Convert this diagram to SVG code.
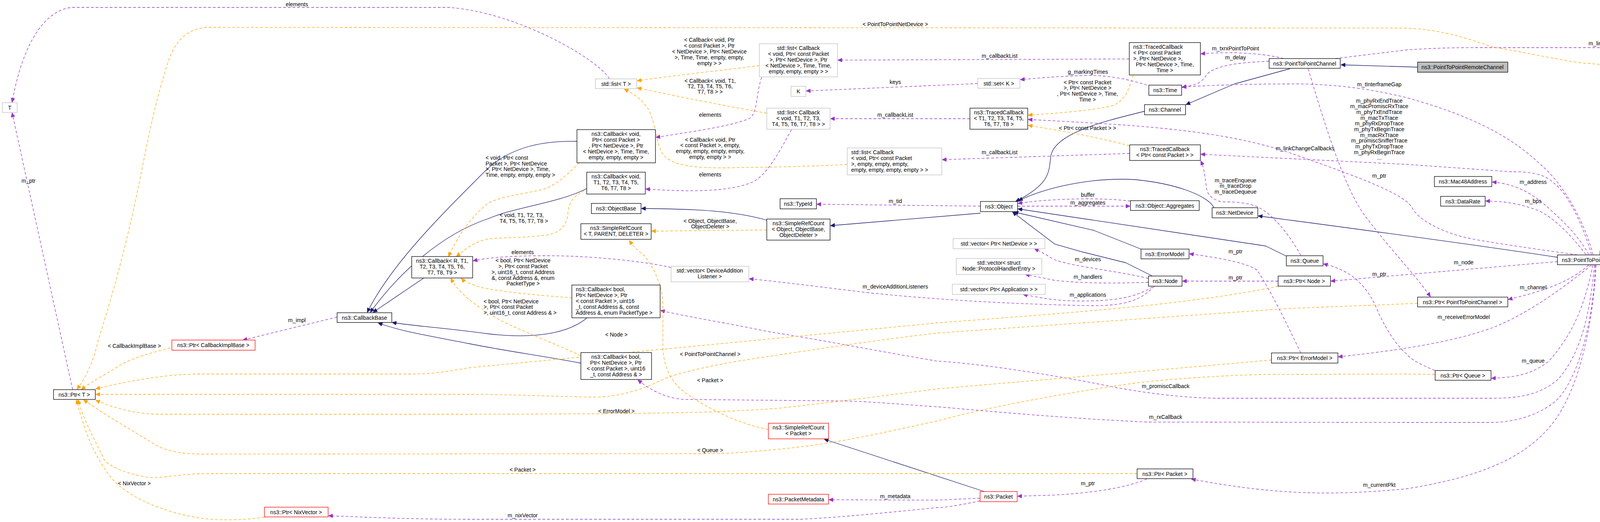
<svg xmlns="http://www.w3.org/2000/svg" width="4744" height="1337" viewBox="0 0 4744 1337">
<style>
text{font-family:"Liberation Sans",Arial,sans-serif;font-size:14px;fill:#000}
.c{text-anchor:middle}
.s{text-anchor:start}
rect{fill:#fff;stroke:#000;stroke-width:1.3}
rect.g{stroke:#bfbfbf}
rect.r{stroke:#ff0000}
rect.h{fill:#bfbfbf}
path{fill:none;stroke-linejoin:round}
.i{stroke:#191970;stroke-width:1.3;marker-end:url(#ai)}
.u{stroke:#9a32cd;stroke-width:1.3;stroke-dasharray:7,5;marker-end:url(#au)}
.t{stroke:#ffa500;stroke-width:1.3;stroke-dasharray:7,5;marker-end:url(#at)}
</style>
<defs>
<marker id="ai" markerUnits="userSpaceOnUse" markerWidth="12" markerHeight="10" refX="11" refY="5" orient="auto"><path d="M0,0L11,5L0,10z" style="fill:#191970;stroke:#191970"/></marker>
<marker id="au" markerUnits="userSpaceOnUse" markerWidth="12" markerHeight="10" refX="11" refY="5" orient="auto"><path d="M0,0L11,5L0,10z" style="fill:#9a32cd;stroke:#9a32cd"/></marker>
<marker id="at" markerUnits="userSpaceOnUse" markerWidth="12" markerHeight="10" refX="11" refY="5" orient="auto"><path d="M0,0L11,5L0,10z" style="fill:#ffa500;stroke:#ffa500"/></marker>
</defs>
<rect x="0" y="0" width="4744" height="1337" style="stroke:none"/>
<g id="connectors">
<!-- inheritance -->
<path class="i" d="M3629,172L3433,166"/>
<path class="i" d="M3302,176L3160,215L3036,268"/>
<path class="i" d="M2930,285C2830,310 2700,340 2690,400C2685,440 2690,470 2600,516"/>
<path class="i" d="M1477,362C1380,360 1300,380 1240,440C1120,560 1000,680 940,800"/>
<path class="i" d="M1502,483C1430,520 1320,530 1250,560C1130,600 1020,700 948,800"/>
<path class="i" d="M1085,712L955,800"/>
<path class="i" d="M1503,814C1460,850 1380,870 1250,855C1140,840 1060,835 1004,826"/>
<path class="i" d="M1487,930C1380,910 1300,900 1200,880C1100,860 1030,850 968,827"/>
<path class="i" d="M1963,564C1880,540 1780,535 1642,534"/>
<path class="i" d="M2510,546L2126,578"/>
<path class="i" d="M3108,532C3090,500 3010,470 2905,460C2820,455 2700,470 2607,514"/>
<path class="i" d="M2921,638L2800,590L2596,543"/>
<path class="i" d="M3293,656L3240,630L2606,535"/>
<path class="i" d="M2950,707L2882,673L2770,645L2700,625L2592,543"/>
<path class="i" d="M3987,659C3800,630 3500,590 3221,553"/>
<path class="i" d="M2520,1259L2110,1125"/>
<!-- usage -->
<path class="u" d="M1560,202C1530,150 1320,30 1148,19L184,19C120,25 60,100 31,262"/>
<path class="u" d="M186,998L31,289"/>
<path class="u" d="M863,812L622,871"/>
<path class="u" d="M1950,198C1935,240 1940,290 1919,303C1870,325 1750,340 1679,352"/>
<path class="u" d="M2026,332C1990,400 1960,450 1927,466C1860,495 1740,490 1653,484"/>
<path class="u" d="M1718,685C1650,670 1520,655 1400,655C1300,655 1250,660 1211,668"/>
<path class="u" d="M2891,151L2145,154"/>
<path class="u" d="M2503,214L2064,233"/>
<path class="u" d="M2483,304L2126,304"/>
<path class="u" d="M2892,393L2412,409"/>
<path class="u" d="M2510,528L2091,523"/>
<path class="u" d="M2936,218C2880,200 2820,190 2760,194C2700,196 2660,200 2612,204"/>
<path class="u" d="M3286,150C3230,135 3140,132 3074,138"/>
<path class="u" d="M3249,157C3160,160 3110,170 3090,190C3070,220 3060,215 3026,224"/>
<path class="u" d="M3418,150L3600,128C3680,122 3746,122 3800,122L4403,122C4480,124 4520,130 4554,135"/>
<path class="u" d="M4078,652C4060,580 4010,480 3950,427C3900,380 3820,310 3600,250C3500,225 3400,214 3300,215C3200,215 3100,218 3026,223"/>
<path class="u" d="M4074,652C4060,600 4020,500 3979,470C3950,440 3900,440 3870,440C3800,435 3700,428 3600,421L3074,395"/>
<path class="u" d="M4038,653C3950,640 3800,620 3746,607C3680,590 3630,560 3616,534C3600,500 3500,460 3280,384C3100,330 2900,320 2632,306"/>
<path class="u" d="M4067,652C4040,600 3990,556 3950,520C3900,480 3860,470 3820,466"/>
<path class="u" d="M4060,652C4020,600 3980,560 3940,540C3900,525 3860,515 3803,515"/>
<path class="u" d="M4353,204L4095,652"/>
<path class="u" d="M4555,167L4462,177"/>
<path class="u" d="M3987,670L3407,720"/>
<path class="u" d="M4067,679C4020,720 3965,742 3861,767"/>
<path class="u" d="M4074,679C4000,740 3900,810 3819,840C3720,875 3600,895 3426,914"/>
<path class="u" d="M4078,679C4060,760 4040,840 3965,925C3920,960 3880,966 3818,969"/>
<path class="u" d="M4082,679C4070,800 4050,900 3990,970C3940,1015 3880,1020 3819,1020L3112,1020C3000,1018 2900,1000 2859,993C2700,960 2500,930 2400,925C2250,900 2100,870 1965,849C1850,825 1750,810 1691,795"/>
<path class="u" d="M4084,679C4080,800 4050,950 3990,1020C3950,1060 3880,1082 3819,1082L3600,1082L2936,1081C2700,1070 2500,1050 2400,1042C2300,1035 2200,1027 2157,1027L1751,1023C1700,1020 1660,995 1633,973"/>
<path class="u" d="M4086,679C4080,800 4050,1000 3965,1096C3900,1170 3800,1220 3600,1252C3450,1265 3300,1275 3050,1227"/>
<path class="u" d="M2936,1227C2880,1250 2800,1262 2700,1268L2605,1271"/>
<path class="u" d="M2509,1276L2400,1281L2122,1280"/>
<path class="u" d="M2509,1283C2450,1295 2420,1300 2400,1300C2250,1315 2150,1325 2050,1330L1200,1330C1050,1330 950,1325 841,1321"/>
<path class="u" d="M2940,713C2840,690 2720,680 2690,660C2675,650 2665,645 2648,637"/>
<path class="u" d="M2940,723C2850,726 2770,726 2700,718C2670,712 2650,708 2625,703"/>
<path class="u" d="M2950,735C2910,760 2860,771 2768,771C2700,771 2660,762 2619,754"/>
<path class="u" d="M2955,733C2920,770 2880,783 2796,783C2650,780 2450,773 2225,750C2100,735 2000,722 1918,714"/>
<path class="u" d="M3272,720L3027,720"/>
<path class="u" d="M3330,904C3290,820 3250,740 3219,693C3200,675 3120,660 3045,650"/>
<path class="u" d="M3673,949C3640,935 3610,920 3600,906C3570,880 3540,830 3520,780C3490,720 3450,690 3388,676"/>
<path class="u" d="M3330,654C3300,600 3260,550 3220,530C3190,517 3150,517 3127,517C3100,510 3090,495 3089,483C3085,460 3085,436 3074,412"/>
<path class="u" d="M3349,176C3400,350 3450,500 3500,560C3560,640 3620,700 3662,760"/>
<path class="u" d="M2605,528L2893,528"/>
<path class="u" d="M2894,515C2850,510 2800,508 2740,510C2680,512 2640,516 2606,521"/>
<!-- templates -->
<path class="t" d="M1944,168C1850,180 1750,190 1631,207"/>
<path class="t" d="M1963,290C1850,270 1750,250 1631,225"/>
<path class="t" d="M2169,421C2050,428 1950,428 1850,430C1780,430 1720,425 1697,395C1680,370 1680,320 1660,280C1640,250 1620,240 1598,228"/>
<path class="t" d="M2901,192C2890,230 2880,260 2844,272C2780,285 2700,290 2632,295"/>
<path class="t" d="M2892,373C2800,350 2720,335 2632,321"/>
<path class="t" d="M1963,589L1668,592"/>
<path class="t" d="M1967,1100C1890,1085 1820,1050 1760,1010C1710,975 1697,930 1697,880L1697,780C1697,730 1670,680 1650,655C1630,640 1620,630 1611,616"/>
<path class="t" d="M1483,417C1460,440 1420,480 1382,487C1320,500 1280,505 1250,520C1200,560 1170,610 1148,657"/>
<path class="t" d="M1496,488C1470,500 1455,520 1454,545C1452,580 1430,600 1391,603C1330,610 1280,608 1250,612C1210,620 1190,640 1168,657"/>
<path class="t" d="M1465,763C1400,758 1300,750 1235,737C1210,730 1190,722 1181,713"/>
<path class="t" d="M1487,911C1420,880 1340,850 1280,820C1230,790 1180,760 1154,713"/>
<path class="t" d="M436,891C380,905 330,920 300,940C260,965 230,980 208,998"/>
<path class="t" d="M677,1325C620,1332 560,1335 500,1325C420,1310 340,1280 290,1230C240,1170 215,1100 196,1024"/>
<path class="t" d="M3272,733C3050,780 2750,800 2400,827L1200,942C1130,955 1090,958 1056,958L497,958C420,960 330,975 245,996"/>
<path class="t" d="M3629,777L3300,790L2400,853C2250,870 2050,900 1889,925C1800,940 1720,960 1697,972C1620,1010 1560,1017 1520,1017C1400,1015 1300,1010 1200,1010L245,1010"/>
<path class="t" d="M3255,922C3000,945 2700,970 2400,996C2250,1015 2150,1028 2000,1045C1850,1057 1700,1060 1200,1061L398,1061C340,1058 290,1045 245,1025"/>
<path class="t" d="M3673,959L3600,958L3242,959C3100,962 2950,975 2900,982C2700,1010 2500,1050 2400,1078C2250,1110 2150,1135 2000,1150C1900,1160 1850,1162 1800,1162L520,1163C450,1163 410,1150 383,1130C300,1080 250,1050 214,1024"/>
<path class="t" d="M2911,1213L536,1213C460,1213 420,1225 383,1223C330,1215 290,1200 268,1180C240,1120 215,1080 200,1024"/>
<path class="t" d="M4275,177C4200,170 4120,168 4038,160C3950,145 3880,130 3819,120C3750,95 3680,75 3600,72L528,70C480,75 450,100 430,160C400,250 380,350 360,450C320,650 280,780 252,870C240,920 225,960 197,997"/>
</g>
<g id="labels">
<text class="c" x="760" y="16">elements</text>
<text class="c" x="73" y="468">m_ptr</text>
<text class="c" x="760" y="825">m_impl</text>
<text class="c" x="344" y="891">&lt; CallbackImplBase &gt;</text>
<text class="c" x="344" y="1243">&lt; NixVector &gt;</text>
<text class="c" x="1816" y="107">&lt; Callback&lt; void, Ptr</text>
<text class="c" x="1816" y="122">&lt; const Packet &gt;, Ptr</text>
<text class="c" x="1816" y="137">&lt; NetDevice &gt;, Ptr&lt; NetDevice</text>
<text class="c" x="1816" y="152">&gt;, Time, Time, empty, empty,</text>
<text class="c" x="1816" y="167">empty &gt; &gt;</text>
<text class="c" x="1818" y="212">&lt; Callback&lt; void, T1,</text>
<text class="c" x="1818" y="226">T2, T3, T4, T5, T6,</text>
<text class="c" x="1818" y="240">T7, T8 &gt; &gt;</text>
<text class="c" x="1818" y="299">elements</text>
<text class="c" x="1818" y="363">&lt; Callback&lt; void, Ptr</text>
<text class="c" x="1818" y="377">&lt; const Packet &gt;, empty,</text>
<text class="c" x="1818" y="392">empty, empty, empty, empty,</text>
<text class="c" x="1818" y="407">empty, empty &gt; &gt;</text>
<text class="c" x="1818" y="452">elements</text>
<text class="c" x="2292" y="215">keys</text>
<text class="c" x="2292" y="299">m_callbackList</text>
<text class="c" x="2292" y="520">m_tid</text>
<text class="c" x="1818" y="571">&lt; Object, ObjectBase,</text>
<text class="c" x="1818" y="585">ObjectDeleter &gt;</text>
<text class="c" x="2292" y="67">&lt; PointToPointNetDevice &gt;</text>
<text class="c" x="1338" y="651">elements</text>
<text class="s" x="1243" y="409">&lt; void, Ptr&lt; const</text>
<text class="s" x="1243" y="424">Packet &gt;, Ptr&lt; NetDevice</text>
<text class="s" x="1243" y="438">&gt;, Ptr&lt; NetDevice &gt;, Time,</text>
<text class="s" x="1243" y="453">Time, empty, empty, empty &gt;</text>
<text class="s" x="1279" y="556">&lt; void, T1, T2, T3,</text>
<text class="s" x="1279" y="571">T4, T5, T6, T7, T8 &gt;</text>
<text class="c" x="1339" y="672">&lt; bool, Ptr&lt; NetDevice</text>
<text class="c" x="1339" y="687">&gt;, Ptr&lt; const Packet</text>
<text class="c" x="1339" y="702">&gt;, uint16_t, const Address</text>
<text class="c" x="1339" y="717">&amp;, const Address &amp;, enum</text>
<text class="c" x="1339" y="731">PacketType &gt;</text>
<text class="s" x="1238" y="777">&lt; bool, Ptr&lt; NetDevice</text>
<text class="s" x="1238" y="791">&gt;, Ptr&lt; const Packet</text>
<text class="s" x="1238" y="806">&gt;, uint16_t, const Address &amp; &gt;</text>
<text class="c" x="1578" y="862">&lt; Node &gt;</text>
<text class="c" x="1818" y="912">&lt; PointToPointChannel &gt;</text>
<text class="c" x="1818" y="979">&lt; Packet &gt;</text>
<text class="c" x="1578" y="1058">&lt; ErrorModel &gt;</text>
<text class="c" x="1818" y="1158">&lt; Queue &gt;</text>
<text class="c" x="1338" y="1208">&lt; Packet &gt;</text>
<text class="c" x="2292" y="739">m_deviceAdditionListeners</text>
<text class="c" x="2292" y="1276">m_metadata</text>
<text class="c" x="1338" y="1325">m_nixVector</text>
<text class="c" x="2559" y="148">m_callbackList</text>
<text class="c" x="2785" y="189">g_markingTimes</text>
<text class="c" x="2784" y="216">&lt; Ptr&lt; const Packet</text>
<text class="c" x="2784" y="230">&gt;, Ptr&lt; NetDevice &gt;</text>
<text class="c" x="2784" y="245">, Ptr&lt; NetDevice &gt;, Time,</text>
<text class="c" x="2784" y="260">Time &gt;</text>
<text class="c" x="3163" y="129">m_txrxPointToPoint</text>
<text class="c" x="3163" y="152">m_delay</text>
<text class="c" x="3531" y="221">m_tInterframeGap</text>
<text class="c" x="3531" y="263">m_phyRxEndTrace</text>
<text class="c" x="3531" y="277">m_macPromiscRxTrace</text>
<text class="c" x="3531" y="292">m_phyTxEndTrace</text>
<text class="c" x="3531" y="307">m_macTxTrace</text>
<text class="c" x="3531" y="321">m_phyRxDropTrace</text>
<text class="c" x="3531" y="336">m_phyTxBeginTrace</text>
<text class="c" x="3531" y="351">m_macRxTrace</text>
<text class="c" x="3531" y="365">m_promiscSnifferTrace</text>
<text class="c" x="3531" y="380">m_phyTxDropTrace</text>
<text class="c" x="3531" y="395">m_phyRxBeginTrace</text>
<text class="c" x="3531" y="409">...</text>
<text class="c" x="2784" y="333">&lt; Ptr&lt; const Packet &gt; &gt;</text>
<text class="c" x="2559" y="395">m_callbackList</text>
<text class="c" x="3341" y="385">m_linkChangeCallbacks</text>
<text class="c" x="3531" y="455">m_ptr</text>
<text class="c" x="3163" y="467">m_traceEnqueue</text>
<text class="c" x="3163" y="481">m_traceDrop</text>
<text class="c" x="3163" y="496">m_traceDequeue</text>
<text class="c" x="2785" y="504">buffer</text>
<text class="c" x="2785" y="524">m_aggregates</text>
<text class="c" x="3163" y="649">m_ptr</text>
<text class="c" x="2785" y="669">m_devices</text>
<text class="c" x="2785" y="714">m_handlers</text>
<text class="c" x="2785" y="760">m_applications</text>
<text class="c" x="3163" y="716">m_ptr</text>
<text class="c" x="3531" y="707">m_ptr</text>
<text class="c" x="2984" y="994">m_promiscCallback</text>
<text class="c" x="2984" y="1073">m_rxCallback</text>
<text class="c" x="2785" y="1243">m_ptr</text>
<text class="c" x="3531" y="1247">m_currentPkt</text>
<text class="c" x="4087" y="116">m_link</text>
<text class="c" x="4508" y="151">m_src</text>
<text class="c" x="4508" y="165">m_dst</text>
<text class="c" x="4231" y="391">m_ptr</text>
<text class="c" x="3925" y="471">m_address</text>
<text class="c" x="3925" y="520">m_bps</text>
<text class="c" x="3747" y="677">m_node</text>
<text class="c" x="3925" y="741">m_channel</text>
<text class="c" x="3747" y="817">m_receiveErrorModel</text>
<text class="c" x="3925" y="929">m_queue</text>
</g>
<g id="T"><rect class="g" x="6" y="263" width="38" height="25"/><text class="c" x="25" y="281">T</text></g>
<g id="ptrT"><rect x="137" y="998" width="107" height="25"/><text class="c" x="190" y="1016">ns3::Ptr&lt; T &gt;</text></g>
<g id="cbR"><rect x="1054" y="657" width="156" height="55"/><text class="c" x="1132" y="673">ns3::Callback&lt; R, T1,</text><text class="c" x="1132" y="688">T2, T3, T4, T5, T6,</text><text class="c" x="1132" y="703">T7, T8, T9 &gt;</text></g>
<g id="cbBase"><rect x="863" y="801" width="140" height="25"/><text class="c" x="933" y="819">ns3::CallbackBase</text></g>
<g id="ptrCIB"><rect class="r" x="440" y="871" width="213" height="26"/><text class="c" x="546" y="889">ns3::Ptr&lt; CallbackImplBase &gt;</text></g>
<g id="ptrNix"><rect class="r" x="677" y="1299" width="163" height="25"/><text class="c" x="758" y="1317">ns3::Ptr&lt; NixVector &gt;</text></g>
<g id="listT"><rect class="g" x="1524" y="202" width="106" height="25"/><text class="c" x="1577" y="220">std::list&lt; T &gt;</text></g>
<g id="listCbPtr"><rect class="g" x="1944" y="112" width="200" height="85"/><text class="c" x="2044" y="128">std::list&lt; Callback</text><text class="c" x="2044" y="143">&lt; void, Ptr&lt; const Packet</text><text class="c" x="2044" y="158">&gt;, Ptr&lt; NetDevice &gt;, Ptr</text><text class="c" x="2044" y="173">&lt; NetDevice &gt;, Time, Time,</text><text class="c" x="2044" y="188">empty, empty, empty &gt; &gt;</text></g>
<g id="K"><rect class="g" x="2025" y="221" width="38" height="26"/><text class="c" x="2044" y="239">K</text></g>
<g id="listCbT"><rect class="g" x="1963" y="277" width="162" height="54"/><text class="c" x="2044" y="293">std::list&lt; Callback</text><text class="c" x="2044" y="308">&lt; void, T1, T2, T3,</text><text class="c" x="2044" y="323">T4, T5, T6, T7, T8 &gt; &gt;</text></g>
<g id="listCbEmpty"><rect class="g" x="2169" y="379" width="242" height="69"/><text class="s" x="2179" y="395">std::list&lt; Callback</text><text class="s" x="2179" y="410">&lt; void, Ptr&lt; const Packet</text><text class="s" x="2179" y="425">&gt;, empty, empty, empty,</text><text class="s" x="2179" y="440">empty, empty, empty, empty &gt; &gt;</text></g>
<g id="cbVoidPtr"><rect x="1477" y="332" width="201" height="85"/><text class="c" x="1577" y="348">ns3::Callback&lt; void,</text><text class="c" x="1577" y="363">Ptr&lt; const Packet &gt;</text><text class="c" x="1577" y="378">, Ptr&lt; NetDevice &gt;, Ptr</text><text class="c" x="1577" y="393">&lt; NetDevice &gt;, Time, Time,</text><text class="c" x="1577" y="408">empty, empty, empty &gt;</text></g>
<g id="cbVoidT"><rect x="1502" y="441" width="150" height="56"/><text class="c" x="1577" y="457">ns3::Callback&lt; void,</text><text class="c" x="1577" y="472">T1, T2, T3, T4, T5,</text><text class="c" x="1577" y="487">T6, T7, T8 &gt;</text></g>
<g id="objBase"><rect x="1514" y="521" width="127" height="26"/><text class="c" x="1577" y="539">ns3::ObjectBase</text></g>
<g id="srcT"><rect x="1487" y="573" width="180" height="40"/><text class="c" x="1577" y="589">ns3::SimpleRefCount</text><text class="c" x="1577" y="604">&lt; T, PARENT, DELETER &gt;</text></g>
<g id="typeId"><rect x="1997" y="509" width="93" height="26"/><text class="c" x="2043" y="527">ns3::TypeId</text></g>
<g id="srcObj"><rect x="1963" y="561" width="162" height="54"/><text class="c" x="2044" y="577">ns3::SimpleRefCount</text><text class="c" x="2044" y="592">&lt; Object, ObjectBase,</text><text class="c" x="2044" y="607">ObjectDeleter &gt;</text></g>
<g id="vecDAL"><rect class="g" x="1718" y="682" width="199" height="40"/><text class="c" x="1817" y="698">std::vector&lt; DeviceAddition</text><text class="c" x="1817" y="713">Listener &gt;</text></g>
<g id="cbBoolEnum"><rect x="1464" y="730" width="226" height="84"/><text class="s" x="1474" y="746">ns3::Callback&lt; bool,</text><text class="s" x="1474" y="761">Ptr&lt; NetDevice &gt;, Ptr</text><text class="s" x="1474" y="776">&lt; const Packet &gt;, uint16</text><text class="s" x="1474" y="791">_t, const Address &amp;, const</text><text class="s" x="1474" y="806">Address &amp;, enum PacketType &gt;</text></g>
<g id="cbBoolAddr"><rect x="1487" y="903" width="181" height="69"/><text class="c" x="1577" y="919">ns3::Callback&lt; bool,</text><text class="c" x="1577" y="934">Ptr&lt; NetDevice &gt;, Ptr</text><text class="c" x="1577" y="949">&lt; const Packet &gt;, uint16</text><text class="c" x="1577" y="964">_t, const Address &amp; &gt;</text></g>
<g id="srcPacket"><rect class="r" x="1967" y="1084" width="154" height="40"/><text class="c" x="2044" y="1100">ns3::SimpleRefCount</text><text class="c" x="2044" y="1115">&lt; Packet &gt;</text></g>
<g id="pktMeta"><rect class="r" x="1967" y="1266" width="154" height="25"/><text class="c" x="2044" y="1284">ns3::PacketMetadata</text></g>
<g id="tcPtr"><rect x="2891" y="109" width="182" height="83"/><text class="s" x="2901" y="125">ns3::TracedCallback</text><text class="s" x="2901" y="140">&lt; Ptr&lt; const Packet</text><text class="s" x="2901" y="155">&gt;, Ptr&lt; NetDevice &gt;,</text><text class="c" x="2982" y="170">Ptr&lt; NetDevice &gt;, Time,</text><text class="c" x="2982" y="185">Time &gt;</text></g>
<g id="ptpCh"><rect x="3249" y="150" width="182" height="25"/><text class="c" x="3340" y="168">ns3::PointToPointChannel</text></g>
<g id="setK"><rect class="g" x="2503" y="201" width="108" height="25"/><text class="c" x="2557" y="219">std::set&lt; K &gt;</text></g>
<g id="time"><rect x="2941" y="218" width="84" height="26"/><text class="c" x="2983" y="236">ns3::Time</text></g>
<g id="tcT"><rect x="2483" y="277" width="148" height="54"/><text class="c" x="2557" y="293">ns3::TracedCallback</text><text class="c" x="2557" y="308">&lt; T1, T2, T3, T4, T5,</text><text class="c" x="2557" y="323">T6, T7, T8 &gt;</text></g>
<g id="channel"><rect x="2930" y="268" width="105" height="26"/><text class="c" x="2982" y="286">ns3::Channel</text></g>
<g id="tcPkt"><rect x="2892" y="371" width="181" height="40"/><text class="c" x="2982" y="387">ns3::TracedCallback</text><text class="c" x="2982" y="402">&lt; Ptr&lt; const Packet &gt; &gt;</text></g>
<g id="object"><rect x="2510" y="516" width="95" height="26"/><text class="c" x="2557" y="534">ns3::Object</text></g>
<g id="aggr"><rect x="2894" y="514" width="176" height="25"/><text class="c" x="2982" y="532">ns3::Object::Aggregates</text></g>
<g id="netDev"><rect x="3103" y="532" width="117" height="26"/><text class="c" x="3161" y="550">ns3::NetDevice</text></g>
<g id="errModel"><rect x="2921" y="638" width="123" height="25"/><text class="c" x="2982" y="656">ns3::ErrorModel</text></g>
<g id="queue"><rect x="3293" y="655" width="94" height="26"/><text class="c" x="3340" y="673">ns3::Queue</text></g>
<g id="vecNetDev"><rect class="g" x="2440" y="611" width="235" height="26"/><text class="c" x="2557" y="629">std::vector&lt; Ptr&lt; NetDevice &gt; &gt;</text></g>
<g id="vecPHE"><rect class="g" x="2448" y="662" width="219" height="41"/><text class="c" x="2557" y="678">std::vector&lt; struct</text><text class="c" x="2557" y="693">Node::ProtocolHandlerEntry &gt;</text></g>
<g id="vecApp"><rect class="g" x="2438" y="728" width="238" height="26"/><text class="c" x="2557" y="746">std::vector&lt; Ptr&lt; Application &gt; &gt;</text></g>
<g id="node"><rect x="2940" y="707" width="86" height="26"/><text class="c" x="2983" y="725">ns3::Node</text></g>
<g id="ptrNode"><rect x="3272" y="707" width="134" height="26"/><text class="c" x="3339" y="725">ns3::Ptr&lt; Node &gt;</text></g>
<g id="ptrErr"><rect x="3255" y="904" width="170" height="26"/><text class="c" x="3340" y="922">ns3::Ptr&lt; ErrorModel &gt;</text></g>
<g id="ptrPkt"><rect x="2911" y="1201" width="143" height="25"/><text class="c" x="2982" y="1219">ns3::Ptr&lt; Packet &gt;</text></g>
<g id="packet"><rect class="r" x="2509" y="1259" width="95" height="26"/><text class="c" x="2556" y="1277">ns3::Packet</text></g>
<g id="remote"><rect class="h" x="3629" y="159" width="231" height="26"/><text class="c" x="3744" y="177">ns3::PointToPointRemoteChannel</text></g>
<g id="link"><rect x="4555" y="129" width="182" height="40"/><text class="c" x="4646" y="145">ns3::PointToPointChannel</text><text class="c" x="4646" y="160">::Link</text></g>
<g id="ptrPtpDev"><rect x="4275" y="162" width="186" height="41"/><text class="c" x="4368" y="178">ns3::Ptr&lt; PointToPointNet</text><text class="c" x="4368" y="193">Device &gt;</text></g>
<g id="mac"><rect x="3672" y="452" width="147" height="26"/><text class="c" x="3745" y="470">ns3::Mac48Address</text></g>
<g id="dataRate"><rect x="3688" y="503" width="114" height="25"/><text class="c" x="3745" y="521">ns3::DataRate</text></g>
<g id="ptpDev"><rect x="3987" y="653" width="197" height="25"/><text class="c" x="4085" y="671">ns3::PointToPointNetDevice</text></g>
<g id="ptrPtpCh"><rect x="3629" y="761" width="231" height="25"/><text class="c" x="3744" y="779">ns3::Ptr&lt; PointToPointChannel &gt;</text></g>
<g id="ptrQueue"><rect x="3674" y="949" width="143" height="25"/><text class="c" x="3745" y="967">ns3::Ptr&lt; Queue &gt;</text></g>
</svg>
